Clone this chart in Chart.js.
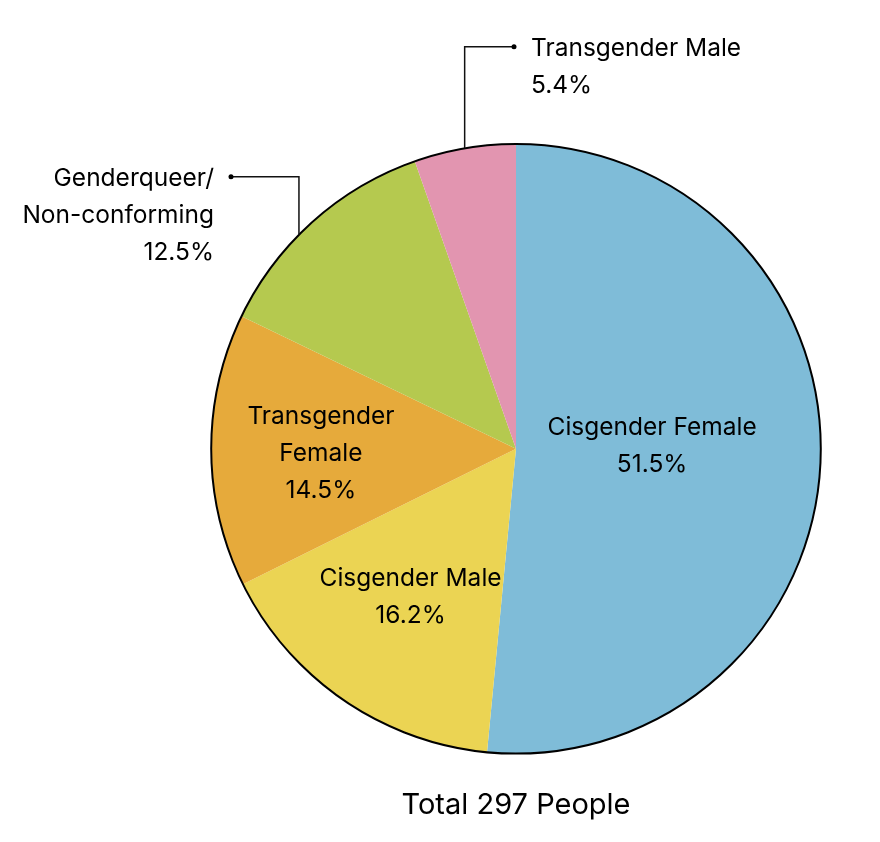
<!DOCTYPE html>
<html>
<head>
<meta charset="utf-8">
<title>Gender identity</title>
<script src="https://cdn.jsdelivr.net/npm/chart.js@4.4.1/dist/chart.umd.min.js"></script>
<style>
    html, body { margin: 0; padding: 0; background: #ffffff; }
    #wrap { width: 880px; height: 842px; }
</style>
</head>
<body>
<div id="wrap"><canvas id="genderChart" width="880" height="842"></canvas></div>
<script>
// counts out of 297 respondents
const categories = ['Cisgender Female', 'Cisgender Male', 'Transgender Female', 'Genderqueer/Non-conforming', 'Transgender Male'];
const counts = [153, 48, 43, 37, 16];
const labelLines = [
    ['Cisgender Female'],
    ['Cisgender Male'],
    ['Transgender', 'Female'],
    ['Genderqueer/', 'Non-conforming'],
    ['Transgender Male']
];
const sliceColors = ['#7fbcd8', '#ebd453', '#e6aa3b', '#b5c94f', '#e295b0'];

const total = counts.reduce((a, b) => a + b, 0);

function pct(v) {
    return (v / total * 100).toFixed(1) + '%';
}

// where each label goes (inside at a fraction of the radius, or outside with a leader line)
const labelPlacement = [
    { inside: true, dist: 0.447, dy: -9 },
    { inside: true, dist: 0.61, dy: -5 },
    { inside: true, dist: 0.64, dy: 4 },
    { inside: false, at: 0.42, elbowDy: -272, dotDx: -285, textDx: -302, align: 'right' },
    { inside: false, at: 0.5, elbowDy: -402, dotDx: -2, textDx: 15, align: 'left' }
];

const FONT = '24.5px Inter, "Noto Sans", sans-serif';
const LINE_H = 37;

const outlinePlugin = {
    id: 'outline',
    afterDatasetsDraw(chart) {
        const arc = chart.getDatasetMeta(0).data[0];
        const ctx = chart.ctx;
        ctx.save();
        ctx.beginPath();
        ctx.arc(arc.x, arc.y, arc.outerRadius, 0, Math.PI * 2);
        ctx.lineWidth = 2;
        ctx.strokeStyle = '#000';
        ctx.stroke();
        ctx.restore();
    }
};

const sliceLabels = {
    id: 'sliceLabels',
    afterDatasetsDraw(chart) {
        const ctx = chart.ctx;
        const meta = chart.getDatasetMeta(0);
        ctx.save();
        ctx.font = FONT;
        ctx.fillStyle = '#000';
        ctx.textBaseline = 'middle';
        meta.data.forEach((arc, i) => {
            const p = labelPlacement[i];
            const lines = labelLines[i].concat([pct(counts[i])]);
            if (p.inside) {
                const mid = (arc.startAngle + arc.endAngle) / 2;
                const d = arc.outerRadius * p.dist;
                const cx = arc.x + Math.cos(mid) * d;
                const cy = arc.y + Math.sin(mid) * d + p.dy;
                ctx.textAlign = 'center';
                lines.forEach((t, k) => {
                    ctx.fillText(t, cx, cy + (k - (lines.length - 1) / 2) * LINE_H);
                });
            } else {
                const a = arc.startAngle + (arc.endAngle - arc.startAngle) * p.at;
                const ex = arc.x + Math.cos(a) * arc.outerRadius;
                const ey = arc.y + Math.sin(a) * arc.outerRadius;
                const elbowY = arc.y + p.elbowDy;
                const dotX = arc.x + p.dotDx;
                ctx.beginPath();
                ctx.moveTo(ex, ey);
                ctx.lineTo(ex, elbowY);
                ctx.lineTo(dotX, elbowY);
                ctx.lineWidth = 1.5;
                ctx.strokeStyle = '#111';
                ctx.stroke();
                ctx.beginPath();
                ctx.arc(dotX, elbowY, 2.5, 0, Math.PI * 2);
                ctx.fill();
                ctx.textAlign = p.align;
                const tx = arc.x + p.textDx;
                lines.forEach((t, k) => {
                    ctx.fillText(t, tx, elbowY + 2 + k * LINE_H);
                });
            }
        });
        ctx.restore();
    }
};

Chart.defaults.font.family = 'Inter, "Noto Sans", sans-serif';
Chart.defaults.color = '#000';

const ctx = document.getElementById('genderChart').getContext('2d');
const genderChart = new Chart(ctx, {
    type: 'pie',
    data: {
        labels: categories,
        datasets: [{
            data: counts,
            backgroundColor: sliceColors,
            borderWidth: 0
        }]
    },
    options: {
        responsive: false,
        animation: false,
        devicePixelRatio: 1,
        layout: {
            padding: { left: 211, right: 59, top: 144, bottom: 9 }
        },
        plugins: {
            legend: { display: false },
            tooltip: { enabled: false },
            title: {
                display: true,
                position: 'bottom',
                text: 'Total ' + total + ' People',
                font: { size: 29, weight: 'normal' },
                color: '#000',
                padding: { top: 34.6, bottom: 10 }
            }
        }
    },
    plugins: [outlinePlugin, sliceLabels]
});
</script>
</body>
</html>
